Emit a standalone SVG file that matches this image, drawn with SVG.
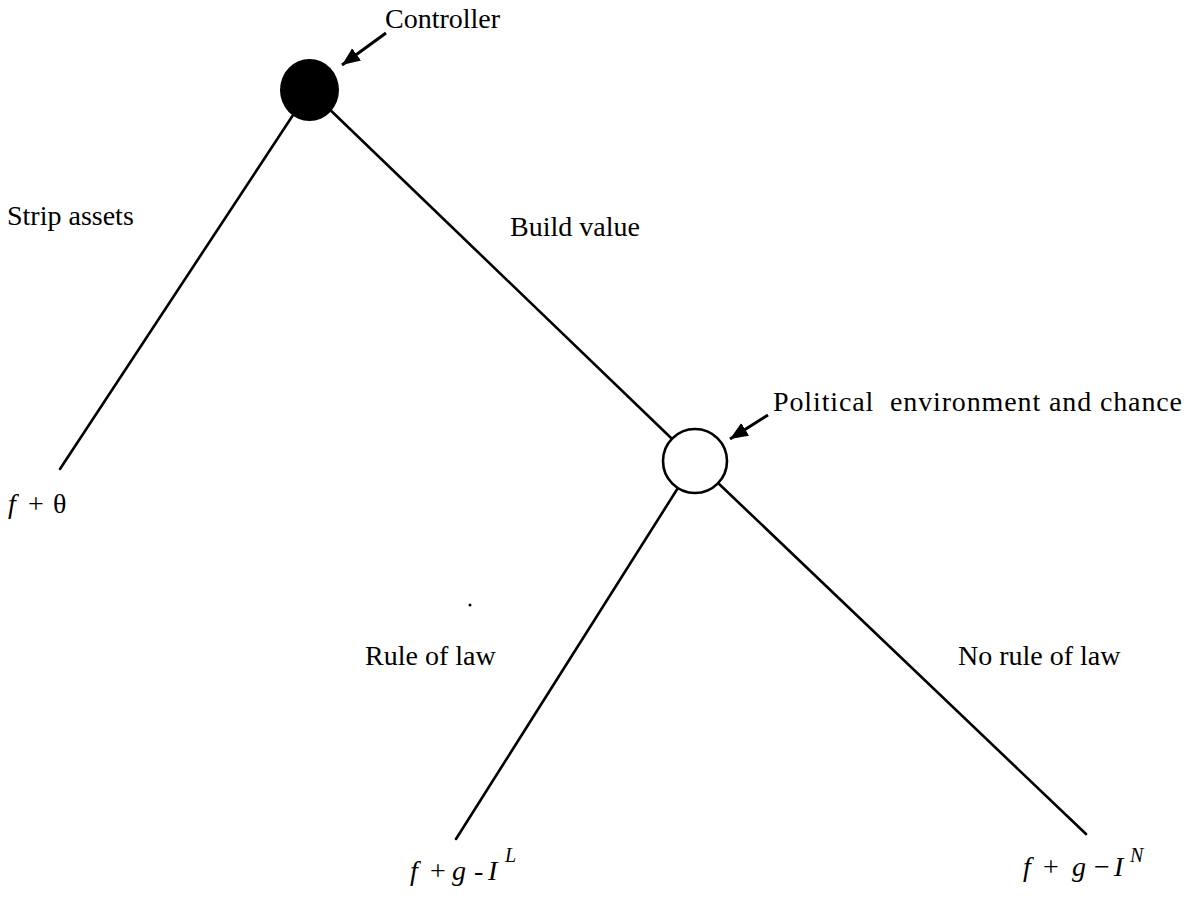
<svg xmlns="http://www.w3.org/2000/svg" width="1190" height="903" viewBox="0 0 1190 903">
<style>
.t{font-family:"Liberation Serif","Times New Roman",serif;font-size:28px;fill:#000}
.i{font-style:italic}
.s{font-size:20px}
.edge{stroke:#000;stroke-width:2.6;fill:none;stroke-linecap:round}
.ptr{stroke:#000;stroke-width:3;fill:none}
</style>
<defs>
<marker id="ah" markerUnits="userSpaceOnUse" markerWidth="20" markerHeight="16" refX="18" refY="7.5" orient="auto">
<path d="M0,0 L18,7.5 L0,15 Z" fill="#000"/>
</marker>
</defs>
<rect width="1190" height="903" fill="#fff"/>
<g id="connectors">
<line class="edge" x1="309.5" y1="90" x2="60" y2="469"/>
<line class="edge" x1="309.5" y1="90" x2="695" y2="461"/>
<line class="edge" x1="695" y1="461" x2="456" y2="839"/>
<line class="edge" x1="695" y1="461" x2="1086" y2="834"/>
<line class="ptr" x1="386" y1="33" x2="342" y2="65" marker-end="url(#ah)"/>
<line class="ptr" x1="768" y1="415" x2="730" y2="439" marker-end="url(#ah)"/>
</g>
<g id="controller">
<ellipse cx="309.5" cy="90" rx="29.5" ry="31" fill="#000"/>
<text class="t" x="385" y="28">Controller</text>
</g>
<g id="chance">
<circle cx="695" cy="461" r="32" fill="#fff" stroke="#000" stroke-width="2.6"/>
<text class="t" x="773" y="411" xml:space="preserve" textLength="409" lengthAdjust="spacing">Political  environment and chance</text>
</g>
<g id="labels">
<text class="t" x="7" y="225">Strip assets</text>
<text class="t" x="510" y="236">Build value</text>
<text class="t" x="365" y="665">Rule of law</text>
<text class="t" x="958" y="665">No rule of law</text>
<circle cx="470" cy="605" r="1.5" fill="#000"/>
</g>
<g id="payoff-strip">
<text class="t" y="513"><tspan class="i" x="8">f</tspan><tspan x="28">+</tspan><tspan x="53">θ</tspan></text>
</g>
<g id="payoff-law">
<text class="t" y="880"><tspan class="i" x="410">f</tspan><tspan x="430">+</tspan><tspan class="i" x="452">g</tspan><tspan x="474">-</tspan><tspan class="i" x="488">I</tspan></text>
<text class="t i s" x="505" y="862">L</text>
</g>
<g id="payoff-nolaw">
<text class="t" y="876"><tspan class="i" x="1023">f</tspan><tspan x="1043">+</tspan><tspan class="i" x="1072">g</tspan><tspan x="1094">−</tspan><tspan class="i" x="1114">I</tspan></text>
<text class="t i s" x="1130" y="862">N</text>
</g>
</svg>
